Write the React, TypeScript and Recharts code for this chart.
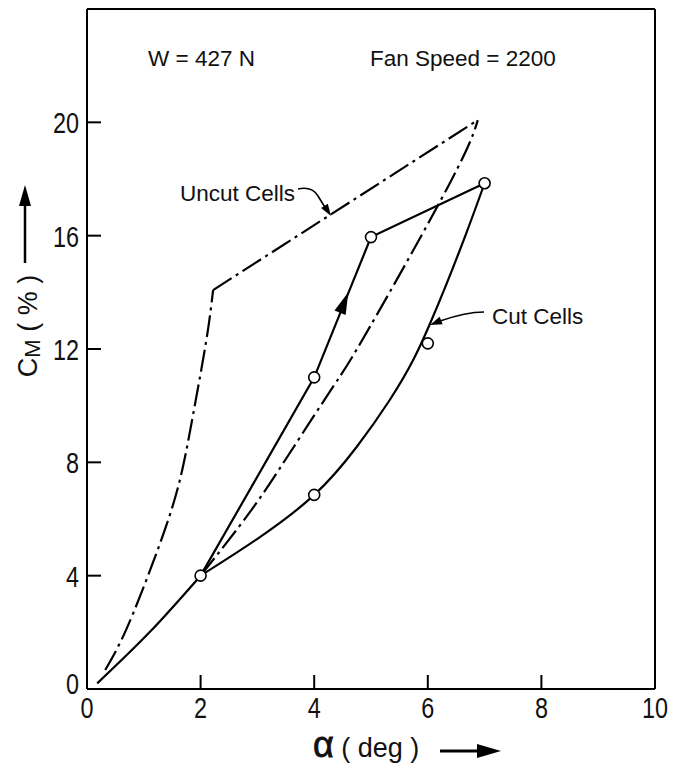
import React from 'react';
import { ComposedChart, Line, Scatter, XAxis, YAxis, Customized } from 'recharts';

const CHART_W = 682;
const CHART_H = 768;
const PLOT = { left: 87, top: 9, right: 655, bottom: 689 };
const X_MAX = 10;
const Y_MAX = 24;
const FONT = '"Liberation Sans", Arial, Helvetica, sans-serif';

const xTicks = [0, 2, 4, 6, 8, 10];
const yTicks = [0, 4, 8, 12, 16, 20];
const innerXTicks = [2, 4, 6, 8];
const innerYTicks = [4, 8, 12, 16, 20];

// alpha (deg), C_M (%)
const cutStart: [number, number][] = [[0.18, 0.2], [1.1, 2.0], [2, 4]];
const cutUp: [number, number][] = [[2, 4], [4, 11], [5, 15.95], [7, 17.85]];
const cutReturn: [number, number][] = [
  [2, 4], [3, 5.3], [4, 6.85], [4.75, 8.55], [5.33, 10.2], [5.74, 11.6], [6.04, 12.9], [6.33, 14.3], [6.68, 16.1], [7, 17.85],
];
const uncutRise: [number, number][] = [
  [0.32, 0.67], [0.7, 2.14], [1.2, 4.67], [1.6, 7.1], [1.86, 9.6], [2.1, 12.3], [2.22, 14.08],
];
const uncutTop: [number, number][] = [[2.22, 14.08], [6.88, 20.08]];
const uncutReturn: [number, number][] = [
  [2, 4], [2.87, 6.25], [3.57, 8.33], [4.33, 10.66], [4.98, 12.78], [6.39, 17.86], [6.88, 20.08],
];
const measured: [number, number][] = [[2, 4], [4, 6.85], [4, 11], [5, 15.95], [6, 12.2], [7, 17.85]];

const pts = (a: [number, number][]) => a.map(([x, y]) => ({ x, y }));

// pixel helpers for annotations only
const px = (v: number) => PLOT.left + (v / X_MAX) * (PLOT.right - PLOT.left);
const py = (v: number) => PLOT.bottom - (v / Y_MAX) * (PLOT.bottom - PLOT.top);

function arrowHead(tx: number, ty: number, dx: number, dy: number, len: number, hw: number) {
  const n = Math.hypot(dx, dy);
  const ux = dx / n, uy = dy / n;
  const bx = tx - ux * len, by = ty - uy * len;
  return `${tx},${ty} ${bx - uy * hw},${by + ux * hw} ${bx + uy * hw},${by - ux * hw}`;
}

const digitStyle = { fontFamily: FONT, fontSize: 30, fill: '#111' };

const BottomTick = (p: any) => {
  const { x, y, payload } = p;
  const v = payload.value;
  return (
    <g>
      {innerXTicks.includes(v) && <line x1={x} y1={y} x2={x} y2={y - 14} stroke="#000" strokeWidth={2} />}
      <text transform={`translate(${x},${y + 29}) scale(0.78,1)`} textAnchor="middle" {...digitStyle}>{v}</text>
    </g>
  );
};

const LeftTick = (p: any) => {
  const { x, y, payload } = p;
  const v = payload.value;
  const ty = v === 0 ? y + 5 : y + 11;
  return (
    <g>
      {innerYTicks.includes(v) && <line x1={x} y1={y} x2={x + 14} y2={y} stroke="#000" strokeWidth={2} />}
      <text transform={`translate(${x - 8},${ty}) scale(0.78,1)`} textAnchor="end" {...digitStyle}>{v}</text>
    </g>
  );
};

const TopTick = (p: any) => (
  <line x1={p.x} y1={p.y} x2={p.x} y2={p.y + 14} stroke="#000" strokeWidth={2} />
);

const RightTick = (p: any) => (
  <line x1={p.x} y1={p.y} x2={p.x - 14} y2={p.y} stroke="#000" strokeWidth={2} />
);

const HollowCircle = (p: any) => (
  <circle cx={p.cx} cy={p.cy} r={5.5} fill="#fff" stroke="#000" strokeWidth={1.6} />
);

const Annotations = () => {
  const txt = { fontFamily: FONT, fontSize: 22.5, fill: '#111' };
  const flowTipX = px(4.6);
  const flowTipY = py(14.0);
  return (
    <g>
      <text x={148} y={66} {...txt}>W = 427 N</text>
      <text x={370} y={66} {...txt}>Fan Speed = 2200</text>
      <text x={180} y={201} {...txt}>Uncut Cells</text>
      <text x={492} y={324} {...txt}>Cut Cells</text>

      <path d="M 298 189 Q 312 186 318 196 L 326 209" fill="none" stroke="#000" strokeWidth={1.6} />
      <polygon points={arrowHead(331, 216, 13, 20, 12, 4)} fill="#000" />
      <path d="M 484 312 Q 466 312 440 321" fill="none" stroke="#000" strokeWidth={1.6} />
      <polygon points={arrowHead(430, 325, -10, 4, 12, 4)} fill="#000" />

      <polygon
        points={arrowHead(flowTipX, flowTipY, px(5) - px(4), py(16) - py(11), 22, 6)}
        fill="#000"
      />

      {/* y axis title */}
      <text transform="translate(37,326) rotate(-90)" textAnchor="middle" fontFamily={FONT} fontSize={27} fill="#111">
        <tspan>C</tspan>
        <tspan fontSize={22} dy={3}>M</tspan>
        <tspan dy={-3}> ( % )</tspan>
      </text>
      <line x1={25} y1={263} x2={25} y2={200} stroke="#000" strokeWidth={2.5} />
      <polygon points={arrowHead(25, 185, 0, -1, 21, 6)} fill="#000" />

      {/* x axis title */}
      <text x={313} y={757} fontFamily={FONT} fontSize={27} fill="#111">
        <tspan fontSize={36} stroke="#111" strokeWidth={0.8}>α</tspan>
        <tspan> ( deg )</tspan>
      </text>
      <line x1={440} y1={751} x2={482} y2={751} stroke="#000" strokeWidth={2.8} />
      <polygon points={arrowHead(501, 751, 1, 0, 24, 7)} fill="#000" />
    </g>
  );
};

const solid = { stroke: '#000', strokeWidth: 2.2, dot: false, activeDot: false, isAnimationActive: false };
const dashDot = { ...solid, strokeDasharray: '22 5 3 5' };

export default function App() {
  return (
    <div style={{ position: 'absolute', left: 0, top: 0, background: '#fff' }}>
      <ComposedChart
        width={CHART_W}
        height={CHART_H}
        margin={{ top: 8, right: 26, bottom: 39, left: 27 }}
      >
        <XAxis
          type="number"
          dataKey="x"
          domain={[0, X_MAX]}
          ticks={xTicks}
          interval={0}
          height={40}
          allowDataOverflow
          axisLine={{ stroke: '#000', strokeWidth: 2 }}
          tickLine={false}
          tickSize={0}
          tickMargin={0}
          tick={BottomTick}
        />
        <XAxis
          xAxisId="top"
          orientation="top"
          type="number"
          domain={[0, X_MAX]}
          ticks={innerXTicks}
          interval={0}
          height={1}
          axisLine={{ stroke: '#000', strokeWidth: 2 }}
          tickLine={false}
          tickSize={0}
          tickMargin={0}
          tick={TopTick}
        />
        <YAxis
          type="number"
          dataKey="y"
          domain={[0, Y_MAX]}
          ticks={yTicks}
          interval={0}
          width={60}
          allowDataOverflow
          axisLine={{ stroke: '#000', strokeWidth: 2 }}
          tickLine={false}
          tickSize={0}
          tickMargin={0}
          tick={LeftTick}
        />
        <YAxis
          yAxisId="right"
          orientation="right"
          type="number"
          domain={[0, Y_MAX]}
          ticks={innerYTicks}
          interval={0}
          width={1}
          axisLine={{ stroke: '#000', strokeWidth: 2 }}
          tickLine={false}
          tickSize={0}
          tickMargin={0}
          tick={RightTick}
        />

        <Line data={pts(uncutRise)} dataKey="y" type="natural" {...dashDot} />
        <Line data={pts(uncutTop)} dataKey="y" type="linear" {...dashDot} />
        <Line data={pts(uncutReturn)} dataKey="y" type="natural" {...dashDot} />

        <Line data={pts(cutStart)} dataKey="y" type="natural" {...solid} />
        <Line data={pts(cutUp)} dataKey="y" type="linear" {...solid} />
        <Line data={pts(cutReturn)} dataKey="y" type="natural" {...solid} />

        <Scatter data={pts(measured)} dataKey="y" shape={HollowCircle} isAnimationActive={false} />

        <Customized component={Annotations} />
      </ComposedChart>
    </div>
  );
}
